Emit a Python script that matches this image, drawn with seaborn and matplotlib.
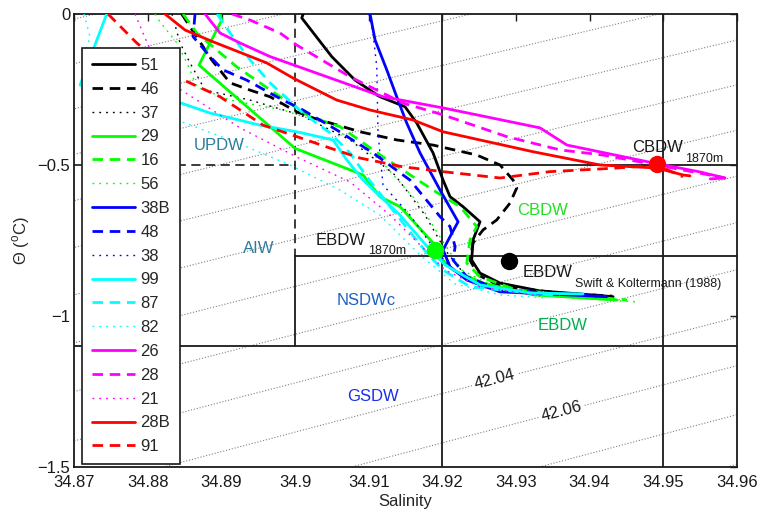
import numpy as np
import pandas as pd
import matplotlib
matplotlib.use("Agg")
import matplotlib.pyplot as plt
import seaborn as sns

# ---------------------------------------------------------------------------
# Station profiles: salinity (S) and potential temperature (T, degC)
# ---------------------------------------------------------------------------
s51 = [34.9011, 34.9009, 34.90497, 34.90814, 34.91153, 34.91493, 34.91652, 34.91874, 34.9201,
       34.92105, 34.92281, 34.92512, 34.92417, 34.92399, 34.92512, 34.92784, 34.93327, 34.93871, 34.9432]
t51 = [0.0, -0.013, -0.141, -0.219, -0.274, -0.307, -0.361, -0.460, -0.550,
       -0.605, -0.638, -0.688, -0.748, -0.815, -0.858, -0.891, -0.917, -0.927, -0.936]

s46 = [34.88459, 34.88867, 34.89116, 34.89387, 34.89659, 34.90022, 34.90243, 34.90882, 34.9138,
       34.91874, 34.92467, 34.92784, 34.92961, 34.93011, 34.9292, 34.92739, 34.92553, 34.92417,
       34.92376, 34.92485, 34.92784, 34.93599, 34.94306]
t46 = [0.0, -0.152, -0.228, -0.252, -0.274, -0.324, -0.344, -0.390, -0.417,
       -0.434, -0.467, -0.500, -0.550, -0.576, -0.626, -0.682, -0.715, -0.758,
       -0.815, -0.864, -0.901, -0.924, -0.934]

s37 = [34.88327, 34.88436, 34.88572, 34.88776, 34.89387, 34.90067, 34.90746, 34.91357, 34.91765,
       34.92037, 34.92308, 34.92784, 34.94007]
t37 = [0.0, -0.096, -0.162, -0.252, -0.285, -0.334, -0.417, -0.533, -0.666,
       -0.781, -0.864, -0.914, -0.937]

s29 = [34.8898, 34.89003, 34.88844, 34.88694, 34.89999, 34.90923, 34.91153, 34.91425, 34.91874,
       34.9201, 34.92146, 34.92553, 34.93232, 34.94374]
t29 = [0.0, -0.020, -0.096, -0.169, -0.445, -0.533, -0.605, -0.638, -0.758,
       -0.815, -0.848, -0.891, -0.930, -0.947]

s16 = [34.88477, 34.88663, 34.88935, 34.89207, 34.89523, 34.89795, 34.90203, 34.9061, 34.91194,
       34.91602, 34.91874, 34.92241, 34.92467, 34.92376, 34.92332, 34.92512, 34.93011, 34.9451]
t16 = [0.0, -0.063, -0.119, -0.175, -0.228, -0.274, -0.340, -0.373, -0.473,
       -0.539, -0.583, -0.638, -0.704, -0.748, -0.825, -0.870, -0.914, -0.947]

s56 = [34.88096, 34.88164, 34.88395, 34.88531, 34.88667, 34.89116, 34.89836, 34.90474, 34.91153,
       34.91697, 34.92037, 34.92268, 34.92784, 34.93735, 34.94686]
t56 = [0.0, -0.026, -0.096, -0.162, -0.242, -0.285, -0.318, -0.368, -0.483,
       -0.632, -0.765, -0.848, -0.914, -0.940, -0.954]

s38b = [34.91018, 34.91086, 34.91245, 34.9138, 34.91516, 34.91697, 34.91969, 34.92214, 34.92105,
        34.9201, 34.92105, 34.92332, 34.92784, 34.94234]
t38b = [0.0, -0.086, -0.185, -0.274, -0.361, -0.460, -0.583, -0.688, -0.737,
        -0.781, -0.837, -0.881, -0.920, -0.936]

s48 = [34.8864, 34.88613, 34.88844, 34.8902, 34.89342, 34.8975, 34.90107, 34.90565, 34.91058,
       34.91561, 34.91969, 34.92105, 34.92173, 34.92146, 34.92332, 34.92784, 34.94279]
t48 = [0.0, -0.075, -0.141, -0.185, -0.219, -0.274, -0.318, -0.384, -0.460,
       -0.550, -0.671, -0.704, -0.771, -0.815, -0.870, -0.914, -0.936]

s38 = [34.91004, 34.91058, 34.91109, 34.91126, 34.91194, 34.91561, 34.91901, 34.92173, 34.92648, 34.94143]
t38 = [0.0, -0.063, -0.175, -0.394, -0.566, -0.666, -0.781, -0.854, -0.907, -0.937]

s99 = [34.8744, 34.87213, 34.8708, 34.88391, 34.88844, 34.89523, 34.90022, 34.90515, 34.90701,
       34.90923, 34.91425, 34.91833, 34.92037, 34.92512, 34.93192, 34.93912]
t99 = [0.0, -0.146, -0.235, -0.290, -0.328, -0.368, -0.390, -0.417, -0.483,
       -0.550, -0.666, -0.781, -0.831, -0.897, -0.924, -0.927]

s87 = [34.88939, 34.89116, 34.89387, 34.89659, 34.90107, 34.90474, 34.90746, 34.90973, 34.91466,
       34.91788, 34.9201, 34.92376, 34.93599]
t87 = [0.0, -0.063, -0.152, -0.228, -0.328, -0.394, -0.460, -0.539, -0.692,
       -0.791, -0.848, -0.903, -0.934]

s82 = [34.87132, 34.87213, 34.87105, 34.87621, 34.88395, 34.89116, 34.89931, 34.9061, 34.91153,
       34.91697, 34.92173, 34.92784, 34.93395]
t82 = [0.0, -0.076, -0.159, -0.285, -0.351, -0.417, -0.500, -0.583, -0.666,
       -0.798, -0.894, -0.930, -0.940]

s26 = [34.88776, 34.8898, 34.89251, 34.89659, 34.91194, 34.9201, 34.93327, 34.93694, 34.94863,
       34.95501, 34.95841, 34.9564]
t26 = [0.0, -0.063, -0.096, -0.141, -0.274, -0.311, -0.377, -0.434, -0.493,
       -0.523, -0.543, -0.546]

s28 = [34.89143, 34.89387, 34.89795, 34.90022, 34.90203, 34.90746, 34.91466, 34.9201, 34.92875,
       34.93599, 34.94184, 34.94913, 34.95841]
t28 = [0.0, -0.020, -0.063, -0.103, -0.129, -0.208, -0.295, -0.334, -0.406,
       -0.450, -0.467, -0.500, -0.543]

s21 = [34.87825, 34.88001, 34.88409, 34.89251, 34.90026, 34.90746, 34.9129, 34.91765, 34.92037,
       34.92512, 34.93327]
t21 = [0.0, -0.103, -0.245, -0.377, -0.474, -0.556, -0.666, -0.781, -0.848, -0.904, -0.934]

s28b = [34.88232, 34.88504, 34.88885, 34.89614, 34.89971, 34.90565, 34.91018, 34.91602, 34.9201,
        34.93232, 34.94143, 34.94913, 34.9527, 34.95365]
t28b = [0.0, -0.053, -0.092, -0.162, -0.212, -0.285, -0.318, -0.351, -0.390,
        -0.456, -0.500, -0.510, -0.533, -0.536]

s91 = [34.87458, 34.87848, 34.88436, 34.8898, 34.89564, 34.90022, 34.90474, 34.90882, 34.91466,
       34.9201, 34.92784, 34.93463, 34.94374, 34.94913, 34.9527]
t91 = [0.0, -0.096, -0.213, -0.274, -0.368, -0.406, -0.444, -0.477, -0.506,
       -0.522, -0.543, -0.522, -0.510, -0.500, -0.539]

station_names = ["51", "46", "37", "29", "16", "56", "38B", "48", "38",
                 "99", "87", "82", "26", "28", "21", "28B", "91"]
station_s = [s51, s46, s37, s29, s16, s56, s38b, s48, s38, s99, s87, s82, s26, s28, s21, s28b, s91]
station_t = [t51, t46, t37, t29, t16, t56, t38b, t48, t38, t99, t87, t82, t26, t28, t21, t28b, t91]

# Reference water-mass points
ebdw1870_s, ebdw1870_t = 34.91905, -0.781
cbdw1870_s, cbdw1870_t = 34.94917, -0.498
ebdw_sk_s, ebdw_sk_t = 34.92906, -0.817

# Isopycnal levels; two of them carry labels
iso_levels = [41.84, 41.86, 41.88, 41.90, 41.92, 41.94, 41.96, 41.98,
              42.00, 42.02, 42.08, 42.10]
iso_labelled = [42.04, 42.06]
iso_label_pos = [(34.9272, -1.215), (34.9362, -1.318)]

# ---------------------------------------------------------------------------
# Styling
# ---------------------------------------------------------------------------
sns.set_theme(style="white")
plt.rcParams["font.family"] = ["Liberation Sans", "DejaVu Sans"]
plt.rcParams["mathtext.fontset"] = "custom"
plt.rcParams["mathtext.rm"] = "Liberation Sans"
plt.rcParams["axes.unicode_minus"] = True

group_colors = ["#000000"] * 3 + ["#00ff00"] * 3 + ["#0000ff"] * 3 + \
               ["#00ffff"] * 3 + ["#ff00ff"] * 3 + ["#ff0000"] * 2
kinds = ["solid", "dashed", "dotted"] * 5 + ["solid", "dashed"]
kind_style = {
    "solid": dict(linestyle="-", linewidth=2.0),
    "dashed": dict(linestyle=(0, (3.8, 2.4)), linewidth=2.0),
    "dotted": dict(linestyle=(0, (1.3, 3.6)), linewidth=1.0),
}

records = []
for name, S, T in zip(station_names, station_s, station_t):
    for i, (sv, tv) in enumerate(zip(S, T)):
        records.append({"station": name, "order": i, "S": sv, "T": tv})
df = pd.DataFrame.from_records(records)

fig = plt.figure(figsize=(7.6, 5.11), dpi=100)
ax = fig.add_axes([0.0978, 0.0861, 0.8716, 0.8865])

xmin, xmax, ymin, ymax = 34.87, 34.96, -1.5, 0.0

# Isopycnals from a locally fitted equation of state
def sigma_local(S, T):
    dS = S - 34.9204
    dT = T + 1.254
    return 42.04 + 0.7837 * dS - 0.1232 * dT - 0.00526 * dT ** 2

sg, tg = np.meshgrid(np.linspace(xmin, xmax, 400), np.linspace(ymin, ymax, 400))
sig = sigma_local(sg, tg)
iso_kw = dict(colors="0.5", linewidths=0.8, linestyles="dotted", zorder=1)
ax.contour(sg, tg, sig, levels=iso_levels, **iso_kw)
cs_lab = ax.contour(sg, tg, sig, levels=iso_labelled, **iso_kw)
ax.clabel(cs_lab, manual=iso_label_pos, fmt="%.2f", fontsize=12, colors="k",
          inline=True, inline_spacing=3)

# Water-mass boundaries
box_kw = dict(color="#1a1a1a", linewidth=1.3, zorder=1.5)
dash_kw = dict(color="#1a1a1a", linewidth=1.2, linestyle=(0, (5.5, 3.3)), zorder=1.5)
ax.plot([34.90, 34.90], [0.0, -0.8], **dash_kw)
ax.plot([34.87, 34.90], [-0.5, -0.5], **dash_kw)
ax.plot([34.92, 34.96], [-0.5, -0.5], **box_kw)
ax.plot([34.90, 34.96], [-0.8, -0.8], **box_kw)
ax.plot([34.90, 34.90], [-0.8, -1.1], **box_kw)
ax.plot([34.87, 34.96], [-1.1, -1.1], **box_kw)
ax.plot([34.92, 34.92], [0.0, -1.5], **box_kw)
ax.plot([34.95, 34.95], [0.0, -1.5], **box_kw)

# Station profiles
for name, col, kind in zip(station_names, group_colors, kinds):
    sub = df[df["station"] == name].sort_values("order")
    sns.lineplot(data=sub, x="S", y="T", sort=False, estimator=None, errorbar=None,
                 color=col, label=name, ax=ax, zorder=3, **kind_style[kind])

# Reference points
ax.plot([ebdw1870_s], [ebdw1870_t], "o", color="#00ff00", markersize=11.5, zorder=5)
ax.plot([cbdw1870_s], [cbdw1870_t], "o", color="#ff0000", markersize=11.5, zorder=5)
ax.plot([ebdw_sk_s], [ebdw_sk_t], "o", color="#000000", markersize=11.5, zorder=5)

# Water-mass names
fs = 12
ax.text(34.88973, -0.437, "UPDW", color="#2e7d9a", fontsize=fs, ha="center", va="center", zorder=6)
ax.text(34.8950, -0.778, "AIW", color="#2e7d9a", fontsize=fs, ha="center", va="center", zorder=6)
ax.text(34.90963, -0.949, "NSDWc", color="#1f5fc0", fontsize=fs, ha="center", va="center", zorder=6)
ax.text(34.91054, -1.267, "GSDW", color="#1a2ee6", fontsize=fs, ha="center", va="center", zorder=6)
ax.text(34.93368, -0.649, "CBDW", color="#22e022", fontsize=fs, ha="center", va="center", zorder=6)
ax.text(34.93641, -1.030, "EBDW", color="#00b050", fontsize=fs, ha="center", va="center", zorder=6)

ax.text(34.90284, -0.765, "EBDW", color="k", fontsize=fs, ha="left", va="baseline", zorder=6)
ax.text(34.90987, -0.795, "1870m", color="k", fontsize=9, ha="left", va="baseline", zorder=6)
ax.text(34.94573, -0.457, "CBDW", color="k", fontsize=fs, ha="left", va="baseline", zorder=6)
ax.text(34.95297, -0.489, "1870m", color="k", fontsize=9, ha="left", va="baseline", zorder=6)
ax.text(34.93096, -0.870, "EBDW", color="k", fontsize=fs, ha="left", va="baseline", zorder=6)
ax.text(34.93803, -0.903, "Swift & Koltermann (1988)", color="k", fontsize=9,
        ha="left", va="baseline", zorder=6)

# Axes
ax.set_xlim(xmin, xmax)
ax.set_ylim(ymin, ymax)
xt = [34.87, 34.88, 34.89, 34.90, 34.91, 34.92, 34.93, 34.94, 34.95, 34.96]
ax.set_xticks(xt)
ax.set_xticklabels(["34.87", "34.88", "34.89", "34.9", "34.91", "34.92",
                    "34.93", "34.94", "34.95", "34.96"])
ax.set_yticks([-1.5, -1.0, -0.5, 0.0])
ax.set_yticklabels(["\u22121.5", "\u22121", "\u22120.5", "0"])
ax.tick_params(direction="in", top=True, right=True, length=5, width=1.0,
               labelsize=12, colors="k")
ax.tick_params(axis="x", pad=5.5)
ax.tick_params(axis="y", pad=3)
ax.set_xlabel("Salinity", fontsize=12, labelpad=3)
ax.set_ylabel(r"Θ ($^{\rm o}$C)", fontsize=12, labelpad=4)
for sp in ax.spines.values():
    sp.set_color("k")
    sp.set_linewidth(1.3)

leg = ax.legend(loc="upper left", bbox_to_anchor=(0.0116, 0.925), borderaxespad=0,
                frameon=True, fancybox=False, edgecolor="k", framealpha=1,
                fontsize=12, handlelength=2.6, handletextpad=0.3,
                labelspacing=0.53, borderpad=0.6)
leg.get_frame().set_linewidth(1.2)
leg.set_zorder(10)

fig.savefig("out.png", dpi=100)
